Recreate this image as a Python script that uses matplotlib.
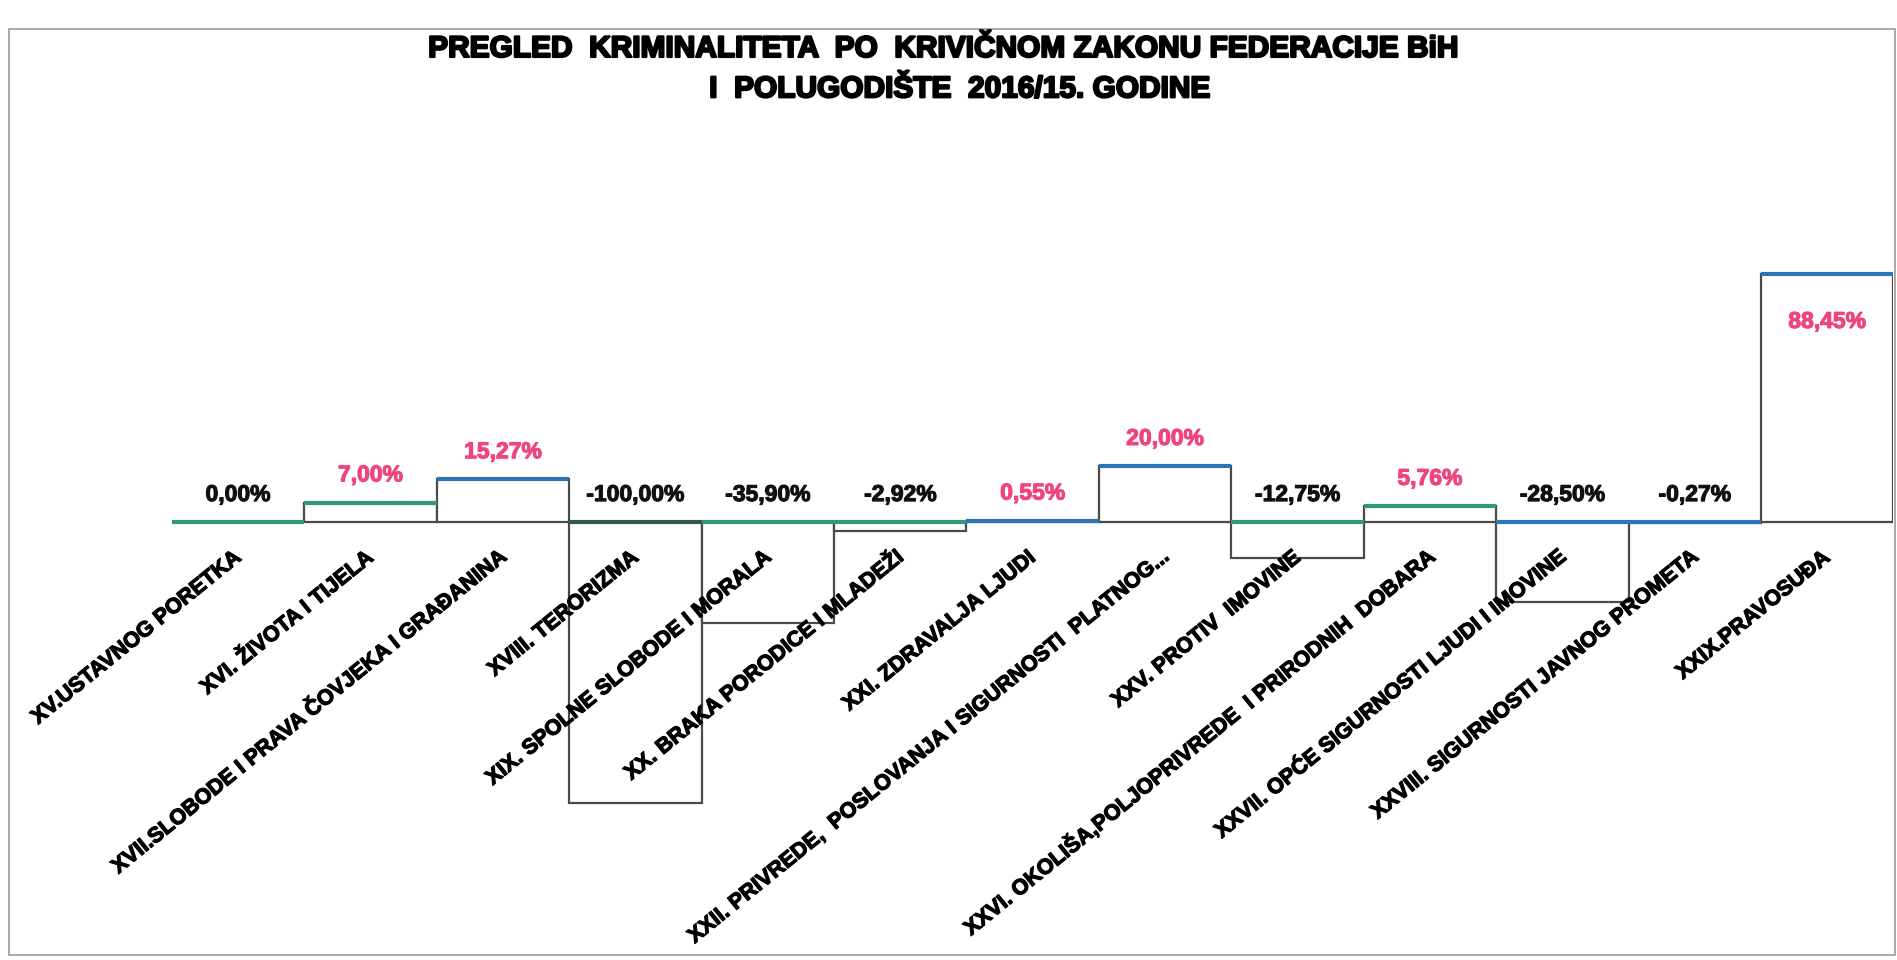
import matplotlib
matplotlib.use("Agg")
import matplotlib.pyplot as plt
from matplotlib.patches import Rectangle
import matplotlib.patheffects as pe

plt.rcParams['font.family'] = ['Liberation Sans', 'DejaVu Sans']

categories = [
    "XV.USTAVNOG PORETKA",
    "XVI. ŽIVOTA I TIJELA",
    "XVII.SLOBODE I PRAVA ČOVJEKA I GRAĐANINA",
    "XVIII. TERORIZMA",
    "XIX. SPOLNE SLOBODE I MORALA",
    "XX. BRAKA PORODICE I MLADEŽI",
    "XXI. ZDRAVALJA LJUDI",
    "XXII. PRIVREDE,  POSLOVANJA I SIGURNOSTI  PLATNOG...",
    "XXV. PROTIV  IMOVINE",
    "XXVI. OKOLIŠA,POLJOPRIVREDE  I PRIRODNIH  DOBARA",
    "XXVII. OPĆE SIGURNOSTI LJUDI I IMOVINE",
    "XXVIII. SIGURNOSTI JAVNOG PROMETA",
    "XXIX.PRAVOSUĐA",
]
values = [0.00, 7.00, 15.27, -100.00, -35.90, -2.92, 0.55, 20.00,
          -12.75, 5.76, -28.50, -0.27, 88.45]
value_labels = ["0,00%", "7,00%", "15,27%", "-100,00%", "-35,90%", "-2,92%",
                "0,55%", "20,00%", "-12,75%", "5,76%", "-28,50%", "-0,27%",
                "88,45%"]
title_lines = ["PREGLED  KRIMINALITETA  PO  KRIVIČNOM ZAKONU FEDERACIJE BiH",
               "I  POLUGODIŠTE  2016/15. GODINE"]

# style only
GREEN = "#2F9A78"
BLUE = "#2E75B6"
top_colors = [GREEN, GREEN, BLUE, "#35584C", GREEN, GREEN, BLUE, BLUE,
              GREEN, GREEN, BLUE, BLUE, BLUE]

fig = plt.figure(figsize=(18.97, 9.60), dpi=100)
fig.patch.set_facecolor("white")
ax = fig.add_axes([0.0906, 0.1345, 0.9075, 0.6136])
ax.set_axisbelow(False)

x = list(range(len(values)))
ax.bar(x, values, width=1.0, color="white", edgecolor="#4a4a4a", linewidth=1.6, zorder=1)
tops = [max(v, 0) for v in values]
ax.hlines(tops, [i - 0.5 for i in x], [i + 0.5 for i in x], colors=top_colors,
          linewidth=3.0, zorder=1.5)

ax.set_xlim(-0.5, len(values) - 0.5)
ax.set_ylim(-110, 100)
for s in ax.spines.values():
    s.set_visible(False)
ax.spines['bottom'].set_position(('data', 0))
ax.set_yticks([])
ax.set_xticks(x)
heavy = [pe.withStroke(linewidth=0.9, foreground="black")]
labels = ax.set_xticklabels(categories, rotation=39, ha="right", va="center",
                            rotation_mode="anchor", fontsize=15.5, fontweight="bold")
for t in labels:
    t.set_path_effects(heavy)
    t.set_zorder(5)
ax.tick_params(axis="x", length=0, pad=24)

vmax = max(values)
for i, (v, lab) in enumerate(zip(values, value_labels)):
    color = "#F0457A" if v > 0 else "#111111"
    stroke = [pe.withStroke(linewidth=0.8, foreground=color)]
    if v == vmax:
        ax.annotate(lab, xy=(i, v), xytext=(0, -34), textcoords="offset points",
                    ha="center", va="center", fontsize=16.5, fontweight="bold",
                    color=color, path_effects=stroke)
    else:
        ax.annotate(lab, xy=(i, max(v, 0)), xytext=(0, 20), textcoords="offset points",
                    ha="center", va="center", fontsize=16.5, fontweight="bold",
                    color=color, path_effects=stroke)

tstroke = [pe.withStroke(linewidth=1.6, foreground="black")]
fig.text(0.497, 0.949, title_lines[0], ha="center", va="center", fontsize=21.5,
         fontweight="bold", path_effects=tstroke)
fig.text(0.506, 0.907, title_lines[1], ha="center", va="center", fontsize=21.5,
         fontweight="bold", path_effects=tstroke)

fig.patches.append(Rectangle((0.005, 0.005), 0.994, 0.965, transform=fig.transFigure,
                             fill=False, edgecolor="#999999", linewidth=1.2))

fig.savefig("out.png", dpi=100, facecolor="white")
